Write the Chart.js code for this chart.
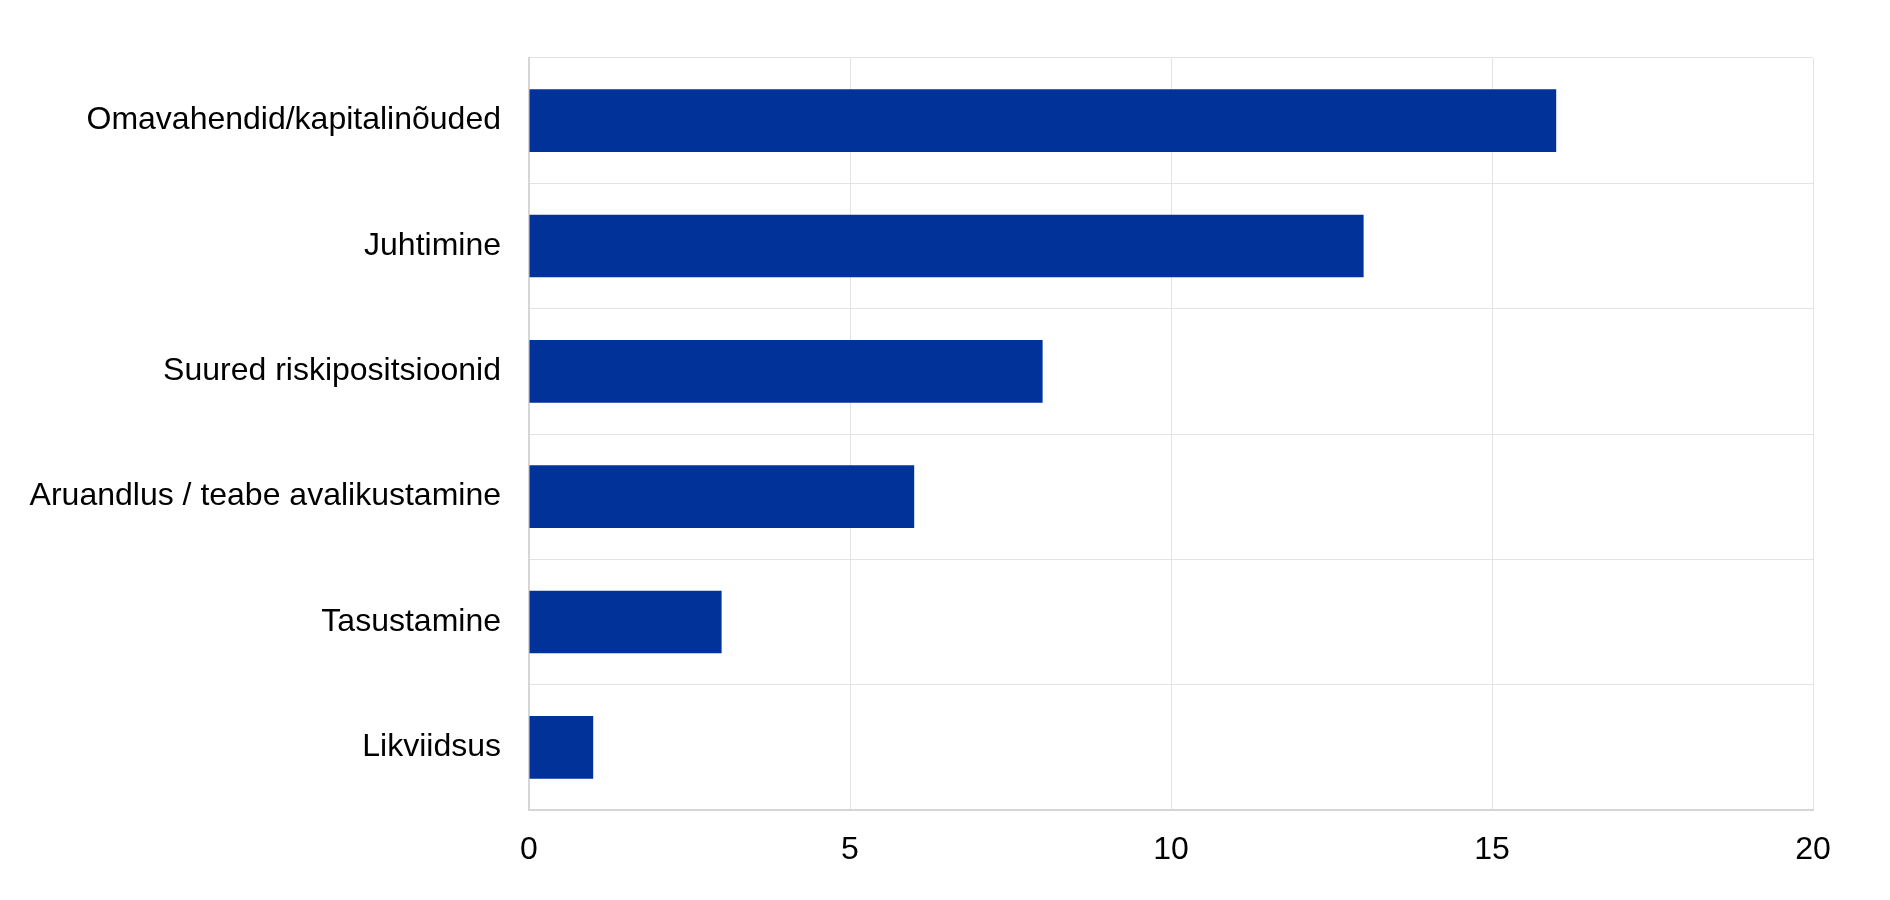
<!DOCTYPE html>
<html>
<head>
<meta charset="utf-8">
<script src="https://cdn.jsdelivr.net/npm/chart.js@4.4.1/dist/chart.umd.min.js"></script>
<style>
    body { margin: 0; background: #ffffff; }
    canvas { display: block; }
</style>
</head>
<body>
<canvas id="chart" width="1890" height="900"></canvas>
<script>
// Categories and values, top to bottom
const categories = [
    'Omavahendid/kapitalinõuded',
    'Juhtimine',
    'Suured riskipositsioonid',
    'Aruandlus / teabe avalikustamine',
    'Tasustamine',
    'Likviidsus'
];
const counts = [16, 13, 8, 6, 3, 1];
const xTicks = [0, 5, 10, 15, 20];

Chart.defaults.font.family = '"Liberation Sans", Arial, sans-serif';
Chart.defaults.font.size = 32;
Chart.defaults.color = '#000000';

const ctx = document.getElementById('chart').getContext('2d');
new Chart(ctx, {
    type: 'bar',
    data: {
        labels: categories,
        datasets: [{
            data: counts,
            backgroundColor: '#003299',
            borderWidth: 0,
            barPercentage: 0.5,
            categoryPercentage: 1.0
        }]
    },
    options: {
        indexAxis: 'y',
        responsive: false,
        animation: false,
        devicePixelRatio: 1,
        layout: {
            padding: { top: 58, right: 77, bottom: 0, left: 0 }
        },
        plugins: {
            legend: { display: false },
            tooltip: { enabled: false }
        },
        scales: {
            x: {
                min: xTicks[0],
                max: xTicks[xTicks.length - 1],
                afterBuildTicks: function(scale) {
                    scale.ticks = xTicks.map(v => ({ value: v }));
                },
                afterFit: function(scale) { scale.height = 90; },
                ticks: { padding: 21, color: '#000000' },
                grid: { color: '#e3e3e3', lineWidth: 1, drawTicks: false },
                border: { color: '#d6d6d6', width: 2 }
            },
            y: {
                afterFit: function(scale) { scale.width = 529; },
                ticks: { padding: 28, color: '#000000' },
                grid: { color: '#e3e3e3', lineWidth: 1, drawTicks: false },
                border: { color: '#d6d6d6', width: 2 }
            }
        }
    }
});
</script>
</body>
</html>
